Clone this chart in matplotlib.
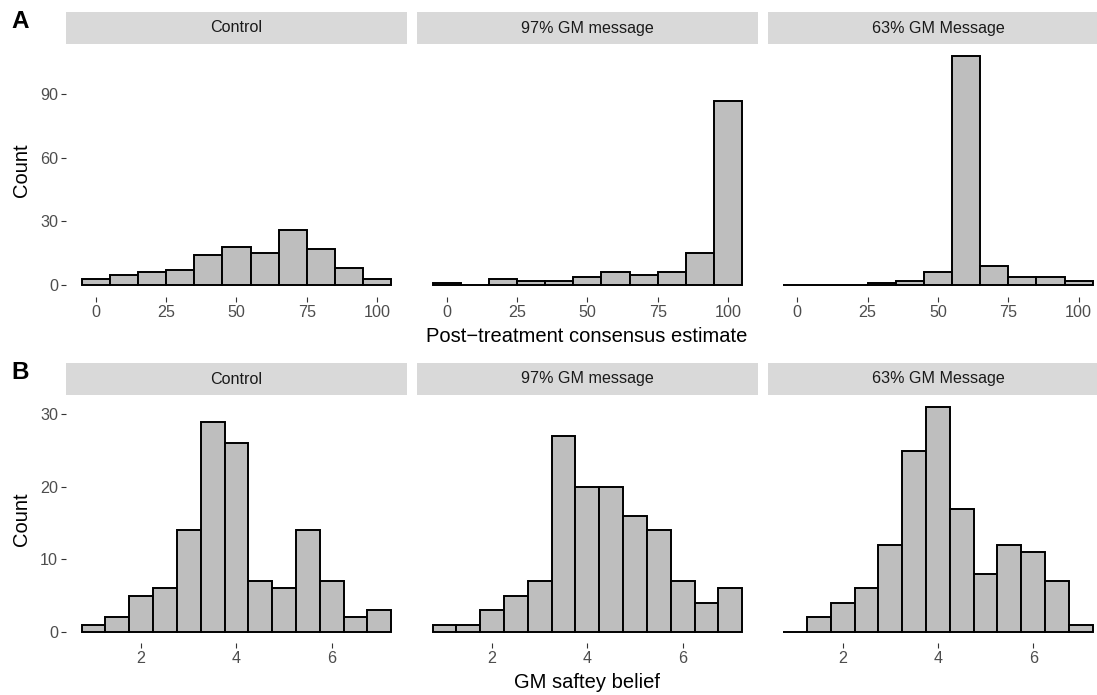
import matplotlib
matplotlib.use("Agg")
import matplotlib.pyplot as plt
import numpy as np

plt.rcParams['font.family'] = ['Liberation Sans', 'DejaVu Sans']

# ---------------- data ----------------
facets = ["Control", "97% GM message", "63% GM Message"]

# Panel A: post-treatment consensus estimate, bins of width 10 centred at 0..100
a_centers = [0, 10, 20, 30, 40, 50, 60, 70, 80, 90, 100]
a_control = [3, 5, 6, 7, 14, 18, 15, 26, 17, 8, 3]
a_97 = [1, 0, 3, 2, 2, 4, 6, 5, 6, 15, 87]
a_63 = [0, 0, 0, 1, 2, 6, 108, 9, 4, 4, 2]
a_xticks = [0, 25, 50, 75, 100]
a_yticks = [0, 30, 60, 90]

# Panel B: GM safety belief, bins of width 0.5 centred at 1..7
b_centers = [1, 1.5, 2, 2.5, 3, 3.5, 4, 4.5, 5, 5.5, 6, 6.5, 7]
b_control = [1, 2, 5, 6, 14, 29, 26, 7, 6, 14, 7, 2, 3]
b_97 = [1, 1, 3, 5, 7, 27, 20, 20, 16, 14, 7, 4, 6]
b_63 = [0, 2, 4, 6, 12, 25, 31, 17, 8, 12, 11, 7, 1]
b_xticks = [2, 4, 6]
b_yticks = [0, 10, 20, 30]

a_width = 10
b_width = 0.5

# ---------------- layout ----------------
W, H = 1097, 695
fig = plt.figure(figsize=(W / 100, H / 100), dpi=100)
fig.patch.set_facecolor("white")

def px_axes(left, top, right, bottom):
    return fig.add_axes([left / W, 1 - bottom / H, (right - left) / W, (bottom - top) / H])

col_lr = [(66.2, 406.7), (417.1, 757.6), (767.7, 1108.2)]

TICK_FS = 11.6
TITLE_FS = 14.5
TICK_COL = "#4D4D4D"
STRIP_COL = "#D9D9D9"
BAR_COL = "#BEBEBE"

def draw_row(centers, series, width, xticks, yticks, top, bottom, strip_top, strip_bottom):
    allvals = [v for s in series for v in s]
    ymax = max(allvals)
    xmin = min(centers) - width / 2
    xmax = max(centers) + width / 2
    xr = xmax - xmin
    for i, (name, counts) in enumerate(zip(facets, series)):
        l, r = col_lr[i]
        ax = px_axes(l, top, r, bottom)
        ax.bar(centers, counts, width=width, align="center", color=BAR_COL,
               edgecolor="black", linewidth=1.4, zorder=3)
        ax.set_xlim(xmin - 0.05 * xr, xmax + 0.05 * xr)
        ax.set_ylim(-0.05 * ymax, ymax * 1.05)
        for sp in ax.spines.values():
            sp.set_visible(False)
        ax.set_xticks(xticks)
        ax.set_xticklabels([str(t) for t in xticks])
        ax.tick_params(axis="x", length=3.6, width=0.8, color="#333333",
                       labelsize=TICK_FS, labelcolor=TICK_COL, pad=2.2)
        if i == 0:
            ax.set_yticks(yticks)
            ax.set_yticklabels([str(t) for t in yticks])
            ax.tick_params(axis="y", length=3.6, width=0.8, color="#333333",
                           labelsize=TICK_FS, labelcolor=TICK_COL, pad=2.2)
        else:
            ax.set_yticks([])
        # strip
        sax = px_axes(l, strip_top, r, strip_bottom)
        sax.set_facecolor(STRIP_COL)
        sax.set_xticks([])
        sax.set_yticks([])
        for sp in sax.spines.values():
            sp.set_visible(False)
        sax.text(0.5, 0.5, name, ha="center", va="center", fontsize=TICK_FS,
                 color="#1A1A1A", transform=sax.transAxes)

draw_row(a_centers, [a_control, a_97, a_63], a_width, a_xticks, a_yticks,
         44.5, 296.6, 12, 44)
draw_row(b_centers, [b_control, b_97, b_63], b_width, b_xticks, b_yticks,
         396, 643, 363, 395)

# axis titles
fig.text(587 / W, 1 - 337 / H, "Post\u2212treatment consensus estimate",
         ha="center", va="center", fontsize=TITLE_FS, color="black")
fig.text(587 / W, 1 - 683 / H, "GM saftey belief",
         ha="center", va="center", fontsize=TITLE_FS, color="black")
fig.text(22 / W, 1 - 170 / H, "Count", rotation=90,
         ha="center", va="center", fontsize=TITLE_FS, color="black")
fig.text(22 / W, 1 - 519 / H, "Count", rotation=90,
         ha="center", va="center", fontsize=TITLE_FS, color="black")

# tags
fig.text(11 / W, 1 - 21 / H, "A", ha="left", va="center", fontsize=17.5,
         fontweight="bold", color="black")
fig.text(11 / W, 1 - 373 / H, "B", ha="left", va="center", fontsize=17.5,
         fontweight="bold", color="black")

fig.savefig("out.png", dpi=100, facecolor="white")
